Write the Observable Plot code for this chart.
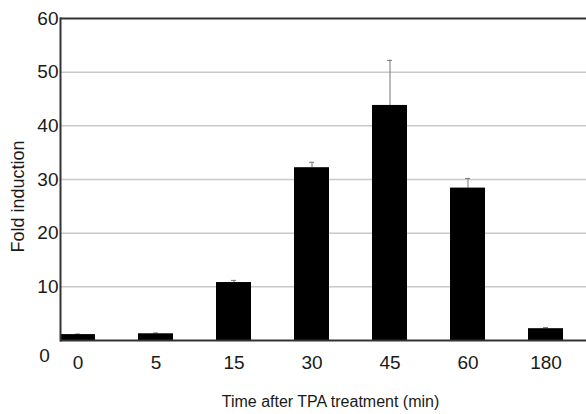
<!DOCTYPE html>
<html><head><meta charset="utf-8">
<script src="https://cdn.jsdelivr.net/npm/d3@7"></script>
<script src="https://cdn.jsdelivr.net/npm/@observablehq/plot@0.6"></script>
<style>body{margin:0;background:#fff}</style>
</head><body><div id="chart"></div>
<script>
const times = ["0", "5", "15", "30", "45", "60", "180"];
const fold = [1.1, 1.25, 10.8, 32.2, 43.8, 28.4, 2.2];
const errUp = [0.1, 0.15, 0.4, 1.0, 8.4, 1.8, 0.2];
const yTicks = [10, 20, 30, 40, 50, 60];
const gridTicks = [10, 20, 30, 40, 50];
const frameLines = [0, 60];
const xTitle = "Time after TPA treatment (min)";
const yTitle = "Fold induction";
const zeroLabel = "0";

const data = times.map((t, i) => ({time: t, fold: fold[i], top: fold[i] + errUp[i]}));

const font = '"Liberation Sans", Arial, Helvetica, sans-serif';
const chart = Plot.plot({
  width: 586, height: 414,
  marginLeft: 60, marginRight: 0, marginTop: 18, marginBottom: 74,
  style: {fontFamily: font, fontSize: "19px", color: "#1a1a1a", background: "#fff"},
  x: {domain: times, paddingInner: 0.548, paddingOuter: 0.12, align: 0},
  y: {domain: [0, 60]},
  marks: [
    Plot.ruleY(gridTicks, {stroke: "#c8c8c8", strokeWidth: 1.5}),
    Plot.ruleX(data, {x: "time", y1: "fold", y2: "top", stroke: "#777", strokeWidth: 1}),
    Plot.tickY(data, {x: "time", y: "top", stroke: "#777", strokeWidth: 1, insetLeft: 15, insetRight: 15}),
    Plot.barY(data, {x: "time", y: "fold", fill: "#000"}),
    Plot.ruleY(frameLines, {stroke: "#333", strokeWidth: 2}),
    Plot.frame({anchor: "left", stroke: "#333", strokeWidth: 2}),
    Plot.axisY(yTicks, {tickSize: 0, tickPadding: 2, label: null, fontSize: 19}),
    Plot.text([zeroLabel], {text: d => d, frameAnchor: "bottom-left", textAnchor: "middle", lineAnchor: "middle", dx: -16, dy: 15, fontSize: 19}),
    Plot.axisX({tickSize: 0, tickPadding: 15, label: null, fontSize: 19}),
    Plot.text([xTitle], {text: d => d, frameAnchor: "bottom", textAnchor: "middle", lineAnchor: "middle", dx: 7, dy: 61, fontSize: 16}),
    Plot.text([yTitle], {text: d => d, frameAnchor: "left", textAnchor: "middle", lineAnchor: "middle", rotate: -90, dx: -42, dy: 17, fontSize: 18})
  ]
});
document.getElementById("chart").appendChild(chart);
</script>
</body></html>
